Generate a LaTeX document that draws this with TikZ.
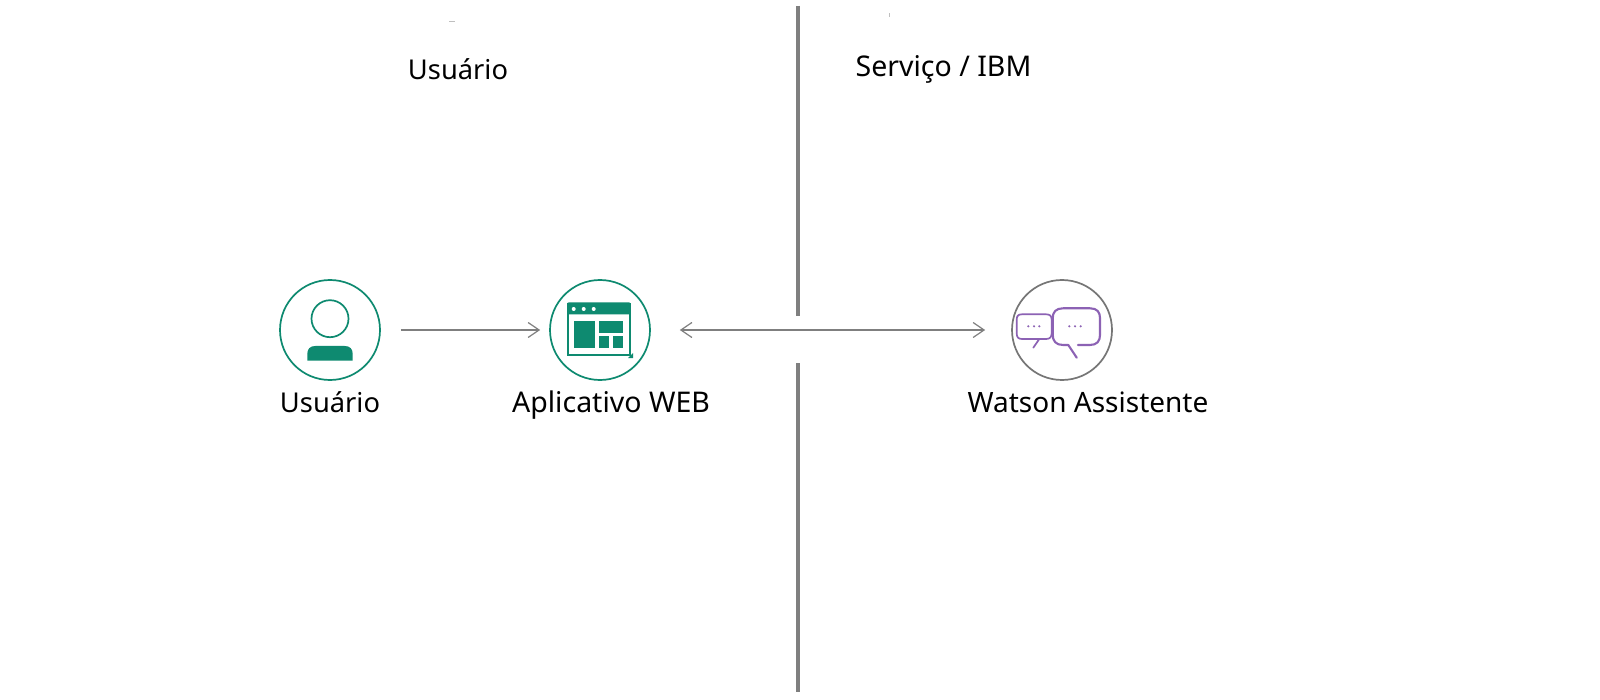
\documentclass[tikz,border=0pt]{standalone}
\usepackage{fontspec}
\setmainfont{Noto Sans}
\usetikzlibrary{arrows.meta}
\definecolor{ibmgreen}{HTML}{0E8A70}
\definecolor{wirecol}{HTML}{7F7F7F}
\definecolor{ringgray}{HTML}{767676}
\definecolor{chatpurple}{HTML}{8C62B4}
\tikzset{
  ring/.style={circle,draw=ibmgreen,line width=1.7pt,minimum size=100pt,inner sep=0pt},
  grayring/.style={ring,draw=ringgray},
  lbl/.style={font=\fontsize{28}{32}\selectfont,text=black,inner sep=0pt,anchor=base},
  lblsmall/.style={lbl,font=\fontsize{27.3}{32}\selectfont},
  lblbig/.style={lbl,font=\fontsize{28.5}{32}\selectfont},
  wire/.style={draw=wirecol,line width=1.2pt,-{Straight Barb[length=11pt,width=15pt,line width=1.2pt]}},
  wiretwo/.style={wire,{Straight Barb[length=11pt,width=15pt,line width=1.2pt]}-{Straight Barb[length=11pt,width=15pt,line width=1.2pt]}},
  divider/.style={draw=wirecol,line width=4pt},
  greenfill/.style={fill=ibmgreen,draw=none},
  bubble/.style={draw=chatpurple,line width=1.7pt,line join=round,line cap=round},
  chatdot/.style={fill=chatpurple,draw=none}
}
\begin{document}
\begin{tikzpicture}[x=1pt,y=-1pt]
\useasboundingbox[fill=white] (0,0) rectangle (1600,700);
% specks
\fill[gray!50] (449,21) rectangle (455,22);
\fill[gray!50] (888.5,13) rectangle (889.5,17);
% headings
\node[lblsmall] (h1) at (458,79.7) {Usuário};
\node[lblbig] (h2) at (943.5,76.6) {Serviço / IBM};
% dividers
\coordinate (d1a) at (798,6);
\coordinate (d1b) at (798,316);
\coordinate (d2a) at (798,363);
\coordinate (d2b) at (798,692);
\draw[divider] (d1a) -- (d1b);
\draw[divider] (d2a) -- (d2b);
% circles
\node[ring] (user) at (330,330) {};
\node[ring] (app) at (600,330) {};
\node[grayring] (wa) at (1062,330) {};
% labels
\node[lblsmall] (l1) at (330,412.7) {Usuário};
\node[lblbig] (l2) at (611,412.7) {Aplicativo WEB};
\node[lbl] (l3) at (1088,412.7) {Watson Assistente};
% connectors
\draw[wire,shorten <=20pt,shorten >=9pt] (user) -- (app);
\draw[wiretwo,shorten <=29pt,shorten >=26pt] (app) -- (wa);
% user icon
\draw[ibmgreen,line width=1.7pt] (330,318.7) circle (18.5);
\fill[ibmgreen] (307.3,360.7) -- (307.3,354) .. controls (307.3,349) and (310,346) .. (315.3,346) -- (344.7,346) .. controls (350,346) and (352.7,349) .. (352.7,354) -- (352.7,360.7) -- cycle;
% app icon
\draw[ibmgreen,line width=2pt] (568,304) rectangle (629.7,354.5);
\fill[greenfill,rounded corners=2pt] (567,302.3) rectangle (630.7,314.5);
\fill[greenfill] (574,320.7) rectangle (595.3,348);
\fill[greenfill] (599,320.7) rectangle (623.3,332.7);
\fill[greenfill] (599,336) rectangle (609,348);
\fill[greenfill] (613,336) rectangle (623.3,348);
\fill[white] (573.7,309) circle (2) (583.7,309) circle (2) (593.7,309) circle (2);
\fill[greenfill] (633,353) -- (633,358) -- (628,358) -- cycle;
% chat icon
\draw[bubble] (1039.3,339) -- (1022,339) .. controls (1018,339) and (1016.7,337) .. (1016.7,333) -- (1016.7,320) .. controls (1016.7,316) and (1018,314.3) .. (1022,314.3) -- (1046,314.3) .. controls (1050,314.3) and (1051.7,316) .. (1051.7,320) -- (1051.7,333) .. controls (1051.7,337) and (1050,339) .. (1046,339) -- (1039.3,339) -- (1033.3,347.7);
\draw[bubble,line width=2.1pt] (1068.3,345) -- (1063,345) .. controls (1056,345) and (1052.7,341) .. (1052.7,335) -- (1052.7,318) .. controls (1052.7,312) and (1056,308.3) .. (1063,308.3) -- (1090,308.3) .. controls (1097,308.3) and (1100,312) .. (1100,318) -- (1100,335) .. controls (1100,341) and (1097,345) .. (1090,345) -- (1078,345);
\draw[bubble,line width=2.1pt] (1068.3,345) -- (1076.7,357.7);
\foreach \px in {1028.3,1034,1039.3,1069.3,1075,1080.7}
  \fill[chatdot] (\px,326.3) circle (1.2);
\end{tikzpicture}
\end{document}
